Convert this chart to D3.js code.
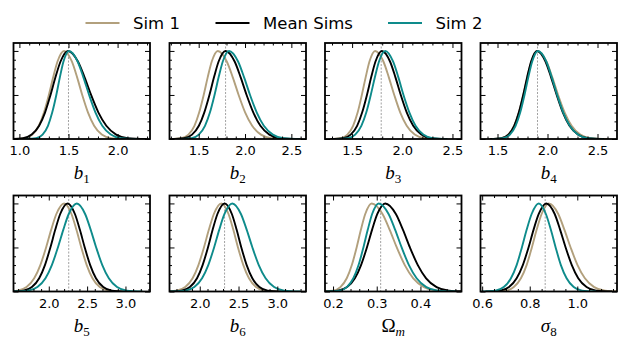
<!DOCTYPE html>
<html><head><meta charset="utf-8">
<script src="https://cdn.jsdelivr.net/npm/d3@7"></script>
<style>body{margin:0;background:#fff;} svg{display:block;}</style>
</head><body><svg id="c" width="625" height="343"></svg>
<script>
// ---- data ----
const seriesNames = ["Sim 1", "Mean Sims", "Sim 2"];
const seriesColors = ["#b2a07d", "#000000", "#0e8b8b"];
const paramLabels = [["b","1"],["b","2"],["b","3"],["b","4"],["b","5"],["b","6"],["Ω","m"],["σ","8"]];
// heights (normalised posterior) at which x positions were read, left tail -> peak -> right tail
const levels = [0,0.01,0.05,0.15,0.3,0.5,0.7,0.88,1,0.88,0.7,0.5,0.3,0.15,0.05,0.01,0];
const xDomains = [[0.94,2.33],[1.185,2.658],[1.23,2.59],[1.33,2.695],[1.54,3.32],[1.61,3.37],[0.1816,0.494],[0.593,1.167]];
const majorTicks = [[1.0,1.5,2.0],[1.5,2.0,2.5],[1.5,2.0,2.5],[1.5,2.0,2.5],[2.0,2.5,3.0],[2.0,2.5,3.0],[0.2,0.3,0.4],[0.6,0.8,1.0]];
const minorSteps = [0.1,0.1,0.1,0.1,0.1,0.1,0.02,0.05];
const fiducial = [1.5,1.79,1.79,1.9,2.26,2.32,0.309,0.865];
const yMajor = [0,0.5,1.0];

const sim1X = [
 [0.927,1.054,1.132,1.198,1.250,1.300,1.344,1.388,1.455,1.534,1.588,1.640,1.699,1.761,1.839,1.932,2.083],
 [1.187,1.312,1.389,1.454,1.505,1.554,1.597,1.641,1.707,1.803,1.868,1.931,2.002,2.077,2.172,2.284,2.467],
 [1.278,1.387,1.453,1.510,1.555,1.597,1.635,1.673,1.730,1.812,1.866,1.920,1.980,2.044,2.124,2.219,2.374],
 [1.420,1.536,1.606,1.666,1.714,1.759,1.799,1.839,1.900,1.989,2.048,2.106,2.172,2.241,2.328,2.431,2.600],
 [1.400,1.593,1.710,1.810,1.890,1.965,2.031,2.099,2.200,2.296,2.361,2.424,2.495,2.570,2.665,2.777,2.960],
 [1.518,1.701,1.813,1.908,1.983,2.054,2.117,2.182,2.278,2.371,2.433,2.493,2.562,2.635,2.726,2.833,3.010],
 [0.1713,0.1996,0.2168,0.2314,0.2430,0.2540,0.2637,0.2737,0.2885,0.3132,0.3297,0.3459,0.3642,0.3836,0.4080,0.4366,0.4837],
 [0.640,0.698,0.733,0.763,0.787,0.809,0.829,0.850,0.880,0.920,0.946,0.972,1.001,1.032,1.071,1.117,1.192]
];
const meanX = [
 [0.891,1.037,1.125,1.201,1.261,1.317,1.367,1.419,1.495,1.596,1.664,1.730,1.805,1.885,1.985,2.102,2.295],
 [1.198,1.341,1.428,1.502,1.560,1.616,1.665,1.715,1.790,1.888,1.953,2.017,2.090,2.166,2.263,2.376,2.562],
 [1.289,1.412,1.486,1.550,1.600,1.648,1.690,1.733,1.797,1.878,1.932,1.985,2.045,2.109,2.189,2.283,2.437],
 [1.427,1.540,1.609,1.667,1.713,1.757,1.796,1.836,1.895,1.980,2.036,2.092,2.154,2.220,2.304,2.402,2.563],
 [1.485,1.668,1.780,1.875,1.950,2.021,2.084,2.149,2.245,2.341,2.406,2.469,2.540,2.615,2.710,2.822,3.005],
 [1.589,1.766,1.873,1.965,2.037,2.106,2.166,2.228,2.321,2.414,2.476,2.536,2.605,2.678,2.769,2.876,3.053],
 [0.1767,0.2112,0.2321,0.2500,0.2641,0.2775,0.2893,0.3014,0.3195,0.3438,0.3601,0.3760,0.3940,0.4130,0.4370,0.4652,0.5115],
 [0.614,0.676,0.713,0.745,0.771,0.795,0.816,0.838,0.870,0.905,0.928,0.951,0.977,1.004,1.039,1.079,1.146]
];
const sim2X = [
 [1.065,1.171,1.236,1.291,1.334,1.376,1.412,1.449,1.505,1.593,1.652,1.710,1.775,1.844,1.931,2.033,2.201],
 [1.295,1.423,1.501,1.568,1.621,1.671,1.715,1.760,1.827,1.925,1.990,2.054,2.127,2.203,2.300,2.413,2.599],
 [1.342,1.460,1.531,1.592,1.641,1.686,1.727,1.768,1.830,1.908,1.961,2.012,2.071,2.132,2.209,2.300,2.450],
 [1.445,1.556,1.624,1.681,1.727,1.770,1.808,1.847,1.905,1.988,2.043,2.097,2.158,2.223,2.304,2.400,2.557],
 [1.526,1.729,1.852,1.957,2.040,2.119,2.189,2.260,2.366,2.474,2.547,2.618,2.698,2.783,2.890,3.016,3.222],
 [1.620,1.813,1.930,2.030,2.110,2.185,2.251,2.319,2.420,2.531,2.606,2.679,2.761,2.849,2.959,3.088,3.300],
 [0.1854,0.2142,0.2316,0.2465,0.2584,0.2695,0.2794,0.2895,0.3046,0.3271,0.3422,0.3570,0.3737,0.3913,0.4135,0.4397,0.4826],
 [0.598,0.656,0.691,0.721,0.745,0.767,0.787,0.808,0.838,0.868,0.889,0.909,0.931,0.955,0.985,1.020,1.078]
];
const allSeries = [sim1X, meanX, sim2X];

// ---- layout ----
const svg = d3.select("#c");
const W = 136.5, H = 96;
const colX = [13.5, 169.5, 325, 480.5];
const rowY = [43, 195.5];
const yScale = d3.scaleLinear().domain([0, 1.09]).range([H, 0]);
const fmt = d3.format(".1f");

paramLabels.forEach((lab, i) => {
  const gx = colX[i % 4], gy = rowY[Math.floor(i / 4)];
  const g = svg.append("g").attr("transform", `translate(${gx},${gy})`);
  const x = d3.scaleLinear().domain(xDomains[i]).range([0, W]);
  const cid = "clip" + i;
  g.append("clipPath").attr("id", cid).append("rect").attr("width", W).attr("height", H);

  // fiducial line
  g.append("line").attr("x1", x(fiducial[i])).attr("x2", x(fiducial[i]))
    .attr("y1", 0).attr("y2", H).attr("stroke", "#8a8a8a").attr("stroke-width", 0.8)
    .attr("stroke-dasharray", "2,1.5");

  const line = d3.line().x(d => x(d[0])).y(d => yScale(d[1])).curve(d3.curveMonotoneX);
  allSeries.forEach((s, k) => {
    const pts = s[i].map((v, j) => [v, levels[j]]);
    g.append("path").attr("d", line(pts)).attr("fill", "none")
      .attr("stroke", seriesColors[k]).attr("stroke-width", 1.9)
      .attr("clip-path", `url(#${cid})`);
  });

  // ticks
  const dom = xDomains[i];
  const st = minorSteps[i];
  const minor = d3.range(Math.ceil(dom[0] / st - 1e-6), Math.floor(dom[1] / st + 1e-6) + 1)
    .map(n => +(n * st).toFixed(4))
    .filter(v => !majorTicks[i].some(m => Math.abs(m - v) < 1e-6));
  const yMinor = d3.range(0, 11).map(n => n / 10).filter(v => !yMajor.some(m => Math.abs(m - v) < 1e-6));

  const addAxis = (axis, tr, labels) => {
    const a = g.append("g").attr("transform", tr).call(axis);
    a.select(".domain").remove();
    a.selectAll(".tick line").attr("stroke", "#000").attr("stroke-width", 1);
    if (!labels) a.selectAll(".tick text").remove();
    else a.selectAll(".tick text").attr("font-family", "DejaVu Sans").attr("font-size", 13).attr("fill", "#000");
  };
  addAxis(d3.axisBottom(x).tickValues(majorTicks[i]).tickSize(-5).tickPadding(7).tickFormat(fmt), `translate(0,${H})`, true);
  addAxis(d3.axisBottom(x).tickValues(minor).tickSize(-2.5).tickFormat(""), `translate(0,${H})`, false);
  addAxis(d3.axisTop(x).tickValues(majorTicks[i]).tickSize(-5).tickFormat(""), `translate(0,0)`, false);
  addAxis(d3.axisTop(x).tickValues(minor).tickSize(-2.5).tickFormat(""), `translate(0,0)`, false);
  addAxis(d3.axisLeft(yScale).tickValues(yMajor).tickSize(-5).tickFormat(""), `translate(0,0)`, false);
  addAxis(d3.axisLeft(yScale).tickValues(yMinor).tickSize(-2.5).tickFormat(""), `translate(0,0)`, false);
  addAxis(d3.axisRight(yScale).tickValues(yMajor).tickSize(-5).tickFormat(""), `translate(${W},0)`, false);
  addAxis(d3.axisRight(yScale).tickValues(yMinor).tickSize(-2.5).tickFormat(""), `translate(${W},0)`, false);

  g.append("rect").attr("width", W).attr("height", H).attr("fill", "none")
    .attr("stroke", "#000").attr("stroke-width", 1.8);

  // axis label
  const t = g.append("text").attr("x", W / 2).attr("y", H + 40)
    .attr("text-anchor", "middle").attr("font-family", "Liberation Serif, DejaVu Serif, serif")
    .attr("font-size", 19).attr("fill", "#000");
  const mainItalic = lab[0] !== "Ω";
  t.append("tspan").attr("font-style", mainItalic ? "italic" : "normal").text(lab[0]);
  t.append("tspan").attr("font-size", 13).attr("dy", 4)
    .attr("font-style", lab[1] === "m" ? "italic" : "normal").text(lab[1]);
});

// legend
const legX = [85.5, 215.5, 388];
seriesNames.forEach((n, k) => {
  svg.append("line").attr("x1", legX[k]).attr("x2", legX[k] + 34).attr("y1", 23).attr("y2", 23)
    .attr("stroke", seriesColors[k]).attr("stroke-width", 2);
  svg.append("text").attr("x", legX[k] + 47.5).attr("y", 29).attr("font-family", "DejaVu Sans")
    .attr("font-size", 16.5).attr("fill", "#000").text(n);
});
</script></body></html>
